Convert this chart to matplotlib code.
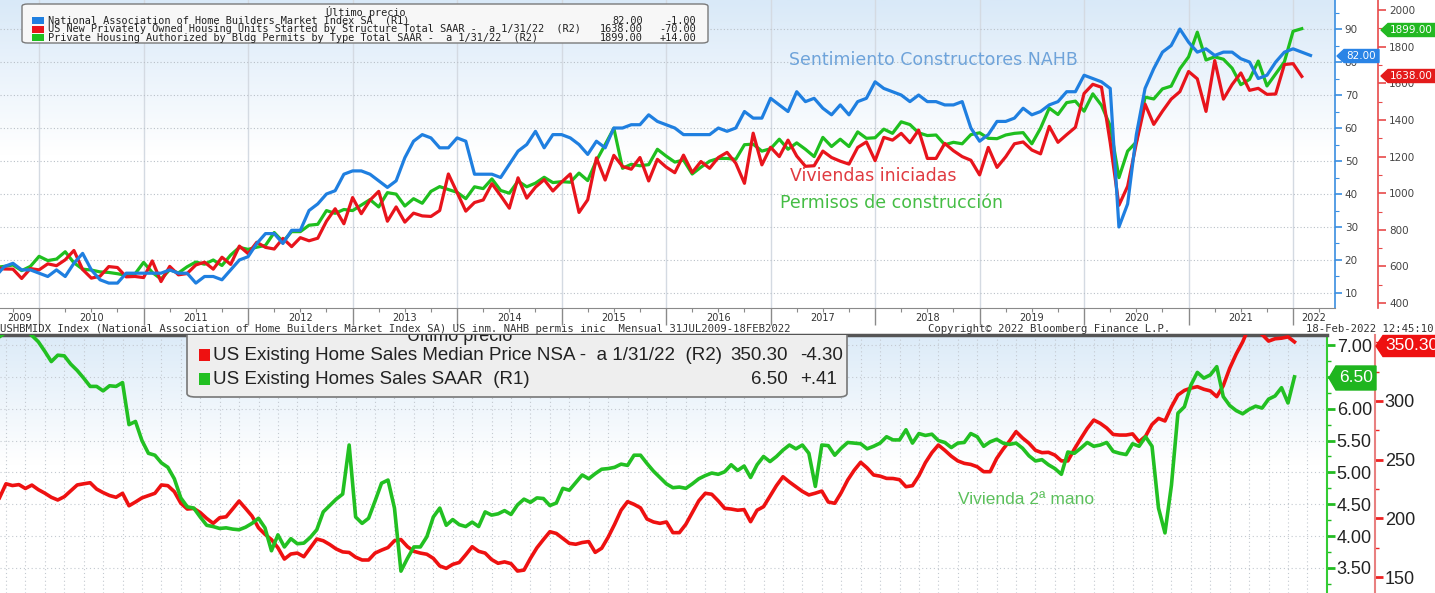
import numpy as np
import matplotlib
matplotlib.use('Agg')
import matplotlib.pyplot as plt
from matplotlib.patches import Polygon, FancyBboxPatch, Rectangle
from matplotlib.colors import LinearSegmentedColormap
from matplotlib.ticker import MultipleLocator, FormatStrFormatter

W, H = 1435, 593

# ---- top panel data: monthly, Jul 2009 .. Jan 2022 (NAHB to Feb 2022)
nahb = [15, 18, 19, 17, 17, 16,
        15, 17, 15, 19, 22, 17, 14, 13, 13, 16, 16, 16,
        16, 16, 17, 16, 16, 13, 15, 15, 14, 17, 20, 21,
        25, 28, 28, 25, 29, 29, 35, 37, 40, 41, 46, 47,
        47, 46, 44, 42, 44, 51, 56, 58, 57, 54, 54, 57,
        56, 46, 46, 46, 45, 49, 53, 55, 59, 54, 58, 58,
        57, 55, 52, 56, 54, 60, 60, 61, 61, 64, 62, 61,
        60, 58, 58, 58, 58, 60, 59, 60, 65, 63, 63, 69,
        67, 65, 71, 68, 69, 66, 64, 67, 64, 68, 69, 74,
        72, 71, 70, 68, 70, 68, 68, 67, 67, 68, 60, 56,
        58, 62, 62, 63, 66, 64, 65, 67, 68, 71, 71, 76,
        75, 74, 72, 30, 37, 58, 72, 78, 83, 85, 90, 86,
        83, 84, 82, 83, 83, 81, 80, 75, 76, 80, 83, 84,
        83, 82]

starts = [594, 586, 585, 534, 588, 581,
          614, 604, 636, 687, 583, 536, 546, 599, 594, 543, 545, 539,
          630, 517, 600, 554, 561, 608, 623, 585, 650, 611, 711, 670,
          732, 704, 695, 753, 708, 757, 740, 754, 847, 915, 833, 976,
          888, 962, 1010, 847, 925, 842, 891, 876, 873, 905, 1105, 1003,
          902, 949, 963, 1052, 987, 918, 1084, 973, 1033, 1074, 1012, 1061,
          1105, 895, 964, 1193, 1072, 1207, 1146, 1131, 1195, 1067, 1185, 1143,
          1112, 1208, 1113, 1173, 1136, 1195, 1223, 1164, 1054, 1328, 1155, 1251,
          1200, 1290, 1203, 1147, 1150, 1230, 1195, 1175, 1159, 1250, 1280, 1178,
          1305, 1290, 1327, 1276, 1345, 1190, 1190, 1272, 1232, 1200, 1180, 1100,
          1250, 1141, 1199, 1270, 1280, 1236, 1215, 1365, 1278, 1320, 1360, 1545,
          1595, 1579, 1276, 934, 1038, 1273, 1487, 1376, 1448, 1514, 1555, 1665,
          1625, 1447, 1725, 1514, 1594, 1657, 1562, 1573, 1540, 1542, 1703, 1708,
          1638]

permits = [595, 600, 608, 577, 600, 655,
           632, 640, 680, 620, 585, 580, 570, 567, 560, 551, 558, 622,
           567, 531, 582, 564, 598, 624, 612, 635, 605, 662, 704, 693,
           705, 715, 785, 735, 790, 790, 825, 830, 905, 890, 911, 905,
           935, 965, 925, 1003, 995, 930, 970, 945, 1010, 1036, 1020, 1005,
           970, 1035, 1025, 1078, 1015, 1000, 1066, 1035, 1055, 1087, 1058, 1063,
           1060, 1110, 1069, 1178, 1265, 1355, 1136, 1158, 1150, 1156, 1240, 1203,
           1170, 1181, 1105, 1142, 1175, 1190, 1190, 1185, 1265, 1268, 1230, 1243,
           1295, 1240, 1275, 1240, 1200, 1305, 1255, 1295, 1255, 1335, 1300, 1303,
           1350, 1327, 1390, 1375, 1330, 1315, 1318, 1265, 1278, 1270, 1320, 1330,
           1300, 1298, 1318, 1327, 1331, 1270, 1355, 1465, 1430, 1495, 1503, 1448,
           1543, 1480, 1368, 1085, 1230, 1280, 1525, 1515, 1570, 1585, 1680, 1745,
           1880, 1728, 1745, 1732, 1683, 1593, 1622, 1722, 1586, 1652, 1718, 1885,
           1899]

# ---- bottom panel data: monthly, May 2005 .. Jan 2022
sales = [7.13, 7.20, 7.25, 7.22, 7.25, 7.15, 7.05, 6.90,
         6.74, 6.84, 6.83, 6.70, 6.60, 6.48, 6.35, 6.35, 6.28, 6.36, 6.35, 6.41,
         5.75, 5.80, 5.50, 5.30, 5.27, 5.15, 5.08, 4.90, 4.60, 4.46, 4.44, 4.30,
         4.17, 4.15, 4.12, 4.13, 4.11, 4.10, 4.14, 4.20, 4.28, 4.13, 3.77, 4.02,
         3.83, 3.96, 3.88, 3.89, 3.98, 4.10, 4.38, 4.48, 4.58, 4.66, 5.43, 4.30,
         4.20, 4.28, 4.55, 4.83, 4.88, 4.44, 3.45, 3.65, 3.83, 3.83, 3.99, 4.30,
         4.44, 4.17, 4.26, 4.18, 4.15, 4.22, 4.15, 4.38, 4.33, 4.35, 4.40, 4.34,
         4.49, 4.58, 4.53, 4.60, 4.59, 4.48, 4.52, 4.75, 4.72, 4.84, 4.96, 4.90,
         4.98, 5.05, 5.06, 5.08, 5.13, 5.11, 5.27, 5.27, 5.14, 5.02, 4.92, 4.82,
         4.76, 4.77, 4.75, 4.82, 4.90, 4.95, 4.99, 4.97, 5.01, 5.12, 5.03, 5.10,
         4.92, 5.12, 5.25, 5.17, 5.25, 5.35, 5.43, 5.37, 5.43, 5.30, 4.78, 5.43,
         5.42, 5.27, 5.38, 5.47, 5.46, 5.45, 5.37, 5.41, 5.46, 5.56, 5.51, 5.51,
         5.67, 5.46, 5.61, 5.58, 5.60, 5.50, 5.47, 5.39, 5.46, 5.47, 5.61, 5.56,
         5.41, 5.48, 5.52, 5.46, 5.44, 5.46, 5.38, 5.26, 5.18, 5.20, 5.12, 5.06,
         4.97, 5.32, 5.30, 5.38, 5.47, 5.41, 5.43, 5.47, 5.33, 5.30, 5.28, 5.45,
         5.41, 5.56, 5.41, 4.44, 4.05, 4.80, 5.93, 6.03, 6.37, 6.57, 6.48, 6.53,
         6.66, 6.19, 6.05, 5.97, 5.92, 5.99, 6.04, 6.01, 6.15, 6.20, 6.33, 6.09,
         6.50]

price = [217.6, 229.5, 228.0, 228.8, 225.5, 228.4, 224.5, 221.5,
         218.0, 215.7, 218.5, 223.5, 228.5, 229.5, 230.4, 225.0, 222.0, 219.5, 218.0, 221.4,
         210.8, 214.0, 217.5, 219.5, 221.4, 228.5, 227.9, 222.8, 213.0, 208.0, 208.5, 205.0,
         200.0, 195.8, 200.6, 201.4, 208.0, 214.8, 208.5, 202.0, 192.0, 186.5, 182.0, 175.0,
         165.4, 169.7, 170.5, 167.4, 175.0, 182.5, 181.0, 177.8, 174.0, 171.5, 171.0, 167.0,
         164.6, 164.6, 170.5, 173.0, 175.2, 181.0, 182.0, 176.0, 172.0, 170.5, 169.5, 166.0,
         159.5, 157.5, 160.9, 162.5, 169.0, 175.9, 172.0, 170.5, 165.0, 161.8, 163.0, 161.5,
         155.2, 156.0, 166.0, 175.0, 182.0, 188.7, 187.2, 183.0, 178.8, 178.0, 179.5, 180.3,
         171.1, 174.6, 184.0, 195.0, 207.0, 214.3, 212.0, 209.0, 199.5, 197.0, 195.8, 197.0,
         187.9, 187.9, 195.0, 205.0, 215.0, 221.4, 220.6, 215.0, 208.6, 208.0, 207.0, 207.5,
         197.2, 207.0, 210.0, 219.0, 228.0, 235.5, 231.0, 227.0, 223.0, 220.0, 221.5, 223.3,
         214.0, 212.9, 222.0, 232.7, 241.0, 247.8, 243.0, 237.0, 236.0, 234.1, 234.0, 233.0,
         227.0, 227.9, 236.4, 247.5, 256.0, 262.5, 258.0, 253.0, 249.0, 246.9, 246.0, 244.0,
         239.8, 239.8, 251.0, 259.0, 266.0, 273.9, 268.5, 264.0, 258.0, 256.0, 256.3, 253.9,
         249.0, 249.0, 259.0, 268.0, 276.7, 283.8, 281.0, 277.0, 271.5, 271.0, 271.0, 272.0,
         265.3, 270.0, 280.0, 285.2, 283.0, 295.0, 305.1, 309.0, 311.0, 312.2, 310.0, 308.6,
         303.7, 313.0, 327.9, 340.0, 350.3, 363.3, 359.9, 356.7, 351.0, 353.0, 353.5, 354.6,
         350.3]

BLUE, RED, GREEN = '#1f7fe0', '#e8141c', '#1fbf1f'


def fx(x):
    return x / W


def fy(y):
    return 1 - y / H


def tag(x0, x1, yc, h, color, text, fs, family='DejaVu Sans'):
    tip = 7
    pts = [(x0, yc), (x0 + tip, yc - h / 2), (x1, yc - h / 2), (x1, yc + h / 2), (x0 + tip, yc + h / 2)]
    fig.patches.append(Polygon([(fx(a), fy(b)) for a, b in pts], closed=True,
                               transform=fig.transFigure, facecolor=color, edgecolor=color, zorder=10))
    fig.text(fx((x0 + tip + x1) / 2), fy(yc), text, color='white', ha='center', va='center',
             fontsize=fs, family=family, zorder=11)


def gradient(ax, top='#d9e9f8'):
    cmap = LinearSegmentedColormap.from_list('bg', ['white', 'white', top])
    g = np.linspace(0, 1, 256).reshape(-1, 1)
    ax.imshow(g, extent=[0, 1, 0, 1], transform=ax.transAxes, cmap=cmap,
              aspect='auto', origin='lower', zorder=0)


def overlay(ax, z):
    # extra twin on the same scale, only used to draw a line on top
    o = ax.twinx()
    o.set_zorder(z)
    o.patch.set_visible(False)
    o.set_ylim(ax.get_ylim())
    o.set_xlim(ax.get_xlim())
    for s in o.spines.values():
        s.set_visible(False)
    o.tick_params(axis='both', which='both', left=False, right=False, bottom=False,
                  labelleft=False, labelright=False, labelbottom=False)
    return o


fig = plt.figure(figsize=(W / 100, H / 100), dpi=100)
fig.patch.set_facecolor('white')

# ================= top panel =================
t_top = 2009 + (np.arange(len(starts)) + 7) / 12
t_nahb = 2009 + (np.arange(len(nahb)) + 7) / 12
x0t, x1t = 2009.626, 2022.401

ax1 = fig.add_axes([0, fy(308), fx(1335), 308 / H])
gradient(ax1)
ax1r = ax1.twinx()
ax1.set_zorder(1)
ax1r.set_zorder(2)
ax1.patch.set_visible(False)
ax1r.patch.set_visible(False)

ax1.set_xlim(x0t, x1t)
ax1r.set_xlim(x0t, x1t)
ax1.set_ylim(5.45, 98.8)
ax1r.set_ylim(372.7, 2055.7)

ax1r.plot(t_top, permits, color=GREEN, lw=2.3)
ax1r.plot(t_top, starts, color=RED, lw=2.3)
ax1b = overlay(ax1, 3)
ax1b.plot(t_nahb, nahb, color=BLUE, lw=2.3)

for s in ['left', 'top']:
    ax1.spines[s].set_visible(False)
    ax1r.spines[s].set_visible(False)
ax1.spines['bottom'].set_color('#8a8a8a')
ax1r.spines['bottom'].set_visible(False)
ax1.spines['right'].set_color('#3a8ee0')
ax1.spines['right'].set_linewidth(1.2)
ax1r.spines['right'].set_position(('outward', 31))
ax1r.spines['right'].set_color('#e84a4a')
ax1r.spines['right'].set_linewidth(1.2)

ax1.yaxis.tick_right()
ax1.set_yticks(np.arange(10, 91, 10))
ax1.yaxis.set_minor_locator(MultipleLocator(5))
ax1.tick_params(axis='y', which='major', colors='#3a8ee0', labelcolor='#444444',
                length=5, width=1.2, labelsize=7.5, pad=2)
ax1.tick_params(axis='y', which='minor', colors='#3a8ee0', length=3, width=0.8)
ax1r.set_yticks(np.arange(400, 2001, 200))
ax1r.yaxis.set_minor_locator(MultipleLocator(100))
ax1r.tick_params(axis='y', which='major', colors='#e84a4a', labelcolor='#444444',
                 length=6, width=1.2, labelsize=7.5, pad=2)
ax1r.tick_params(axis='y', which='minor', colors='#e84a4a', length=3, width=0.8)

years = np.arange(2010, 2023)
ax1.set_xticks(years)
ax1.set_xticks(np.arange(2009.75, 2022.4, 0.25), minor=True)
ax1.tick_params(axis='x', which='major', length=12, width=1, color='#8a8a8a', labelbottom=False)
ax1.tick_params(axis='x', which='minor', length=3, width=0.8, color='#8a8a8a')
ax1.grid(axis='x', which='major', color='#d4dae2', lw=1, zorder=1)
ax1.grid(axis='y', which='major', color='#b9c0c8', lw=0.8, linestyle=(0, (1, 2)), zorder=1)
ax1r.tick_params(axis='x', which='both', bottom=False, labelbottom=False)

for yr in range(2009, 2023):
    a, b = max(yr, x0t), min(yr + 1, x1t)
    ax1.text((a + b) / 2, -0.033, str(yr), transform=ax1.get_xaxis_transform(),
             ha='center', va='center', fontsize=7, color='#333333', clip_on=False)

# annotations
fig.text(fx(789), fy(60), 'Sentimiento Constructores NAHB',
         color='#6ea3da', fontsize=12.5, va='center', ha='left', zorder=6)
fig.text(fx(790), fy(176), 'Viviendas iniciadas',
         color='#e03a40', fontsize=12.5, va='center', ha='left', zorder=6)
fig.text(fx(780), fy(203), 'Permisos de construcción',
         color='#45bd45', fontsize=12.5, va='center', ha='left', zorder=6)

# legend box (top)
MONO = 'DejaVu Sans Mono'
fig.patches.append(FancyBboxPatch((fx(22), fy(43)), fx(708) - fx(22), fy(4) - fy(43),
                                  boxstyle='round,pad=0,rounding_size=0.004',
                                  transform=fig.transFigure, facecolor='#f7f7f7',
                                  edgecolor='#7a7a7a', lw=1, zorder=10))
fig.text(fx(366), fy(12), 'Último precio', ha='center', va='center', fontsize=7.4,
         family=MONO, color='#222222', zorder=11)
rows_top = [
    (BLUE, 'National Association of Home Builders Market Index SA  (R1)',
     nahb[-1], nahb[-1] - nahb[-2]),
    (RED, 'US New Privately Owned Housing Units Started by Structure Total SAAR -  a 1/31/22  (R2)',
     starts[-1], starts[-1] - starts[-2]),
    (GREEN, 'Private Housing Authorized by Bldg Permits by Type Total SAAR -  a 1/31/22  (R2)',
     permits[-1], permits[-1] - permits[-2]),
]
for i, (c, lab, v, d) in enumerate(rows_top):
    yy = 20.5 + i * 8.7
    fig.patches.append(Rectangle((fx(32), fy(yy + 3.5)), fx(12), 7 / H,
                                 transform=fig.transFigure, facecolor=c, edgecolor='none', zorder=11))
    fig.text(fx(48), fy(yy), lab, ha='left', va='center', fontsize=7.4, family=MONO,
             color='#222222', zorder=11)
    fig.text(fx(643), fy(yy), f'{v:.2f}', ha='right', va='center', fontsize=7.4, family=MONO,
             color='#222222', zorder=11)
    fig.text(fx(696), fy(yy), f'{d:+.2f}', ha='right', va='center', fontsize=7.4, family=MONO,
             color='#222222', zorder=11)

# value tags (top)
tag(1337, 1379, 56, 13, '#2a84e6', f'{nahb[-1]:.2f}', 7.5)
tag(1381, 1435, 30, 13, '#22b822', f'{permits[-1]:.2f}', 7.5)
tag(1381, 1435, 76, 13, '#e31b1b', f'{starts[-1]:.2f}', 7.5)

# footer line
fig.text(0.0, fy(329), 'USHBMIDX Index (National Association of Home Builders Market Index SA) '
         'US inm. NAHB permis inic  Mensual 31JUL2009-18FEB2022',
         ha='left', va='center', fontsize=7.7, family=MONO, color='#333333')
fig.text(fx(928), fy(329), 'Copyright© 2022 Bloomberg Finance L.P.', ha='left', va='center',
         fontsize=7.7, family=MONO, color='#333333')
fig.text(fx(1433), fy(329), '18-Feb-2022 12:45:10', ha='right', va='center',
         fontsize=7.7, family=MONO, color='#333333')

# ================= bottom panel =================
t_bot = 2005 + (np.arange(len(sales)) + 5) / 12
x0b, x1b = 2005.423, 2022.502
NARROW = ['Liberation Sans Narrow', 'Liberation Sans', 'DejaVu Sans']

ax2 = fig.add_axes([0, 0, fx(1327), (H - 335) / H])
gradient(ax2, top='#dcebf8')
ax2r = ax2.twinx()
ax2.set_zorder(1)
ax2r.set_zorder(2)
ax2.patch.set_visible(False)
ax2r.patch.set_visible(False)

ax2.set_xlim(x0b, x1b)
ax2r.set_xlim(x0b, x1b)
ax2.set_ylim(3.107, 7.157)
ax2r.set_ylim(136.5, 356.2)

ax2r.plot(t_bot, price, color='#ee1111', lw=2.6)
ax2g = overlay(ax2, 3)
ax2g.plot(t_bot, sales, color='#22c022', lw=2.6)

for s in ['left', 'bottom']:
    ax2.spines[s].set_visible(False)
    ax2r.spines[s].set_visible(False)
ax2.spines['top'].set_color('#555555')
ax2.spines['top'].set_linewidth(2.5)
ax2r.spines['top'].set_visible(False)
ax2.spines['right'].set_color('#33cc33')
ax2.spines['right'].set_linewidth(1.5)
ax2r.spines['right'].set_position(('outward', 34.5))
ax2r.spines['right'].set_color('#e88080')
ax2r.spines['right'].set_linewidth(1.5)

ax2.yaxis.tick_right()
ax2.set_yticks(np.arange(3.5, 7.01, 0.5))
ax2.yaxis.set_minor_locator(MultipleLocator(0.25))
ax2.yaxis.set_major_formatter(FormatStrFormatter('%.2f'))
ax2.tick_params(axis='y', which='major', colors='#22bb22', labelcolor='#222222',
                length=6, width=2, labelsize=13, pad=1)
ax2.tick_params(axis='y', which='minor', colors='#22bb22', length=3, width=1)
for lab in ax2.get_yticklabels():
    lab.set_family(NARROW)
ax2r.set_yticks(np.arange(150, 301, 50))
ax2r.yaxis.set_minor_locator(MultipleLocator(25))
ax2r.tick_params(axis='y', which='major', colors='#ee2222', labelcolor='#222222',
                 length=6, width=2, labelsize=13, pad=1)
ax2r.tick_params(axis='y', which='minor', colors='#ee2222', length=3, width=1)
for lab in ax2r.get_yticklabels():
    lab.set_family(NARROW)

ax2.set_xticks(np.arange(2005.5, 2022.6, 0.25))
ax2.tick_params(axis='x', length=0, labelbottom=False)
ax2r.tick_params(axis='x', length=0, labelbottom=False)
ax2.grid(axis='both', color='#c3c9d0', lw=0.8, linestyle=(0, (1, 2.5)), zorder=1)

fig.text(fx(958), fy(500), 'Vivienda 2ª mano', color='#5cc05c',
         fontsize=12.5, family=NARROW, va='center', ha='left', zorder=6)

# legend box (bottom), clipped by the panel top like the reference
leg = FancyBboxPatch((fx(187), fy(397)), fx(847) - fx(187), fy(326) - fy(397),
                     boxstyle='round,pad=0,rounding_size=0.006', transform=fig.transFigure,
                     facecolor='#eeeeee', edgecolor='#777777', lw=1.2, zorder=10)
ax2g.add_patch(leg)
ax2g.text(fx(460), fy(335), 'Último precio', transform=fig.transFigure, ha='center', va='center',
          fontsize=13, family=NARROW, color='#222222', zorder=11, clip_on=True)
rows_bot = [
    ('#ee1111', 'US Existing Home Sales Median Price NSA -  a 1/31/22  (R2)',
     f'{price[-1]:.2f}', f'{price[-1] - price[-2]:+.2f}', 355),
    ('#22c022', 'US Existing Homes Sales SAAR  (R1)',
     f'{sales[-1]:.2f}', f'{sales[-1] - sales[-2]:+.2f}'.replace('0.', '.'), 379),
]
for c, lab, v, d, yy in rows_bot:
    ax2g.add_patch(Rectangle((fx(199), fy(yy + 6)), fx(11), 12 / H, transform=fig.transFigure,
                             facecolor=c, edgecolor='none', zorder=11))
    ax2g.text(fx(213), fy(yy), lab, transform=fig.transFigure, ha='left', va='center',
              fontsize=13.5, family=NARROW, color='#222222', zorder=11)
    ax2g.text(fx(788), fy(yy), v, transform=fig.transFigure, ha='right', va='center',
              fontsize=13.5, family=NARROW, color='#222222', zorder=11)
    ax2g.text(fx(800), fy(yy), d, transform=fig.transFigure, ha='left', va='center',
              fontsize=13.5, family=NARROW, color='#222222', zorder=11)

# value tags (bottom)
tag(1376, 1440, 346, 21, '#ee1111', f'{price[-1]:.2f}', 12.5, family=NARROW)
tag(1329, 1376, 378, 24, '#1fb51f', f'{sales[-1]:.2f}', 12.5, family=NARROW)

fig.savefig('out.png', dpi=100, facecolor='white')
